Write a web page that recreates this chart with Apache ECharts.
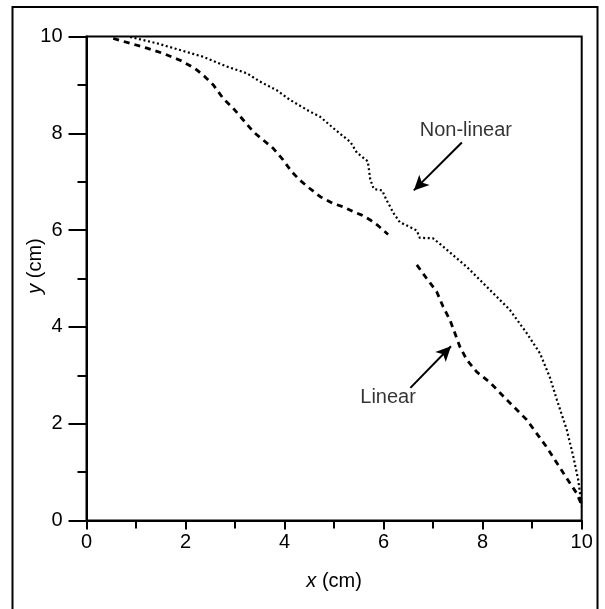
<!DOCTYPE html>
<html>
<head>
<meta charset="utf-8">
<script src="https://cdn.jsdelivr.net/npm/echarts@6/dist/echarts.min.js"></script>
<style>
html,body{margin:0;padding:0;background:#fff;}
#chart{width:605px;height:609px;}
</style>
</head>
<body>
<div id="chart"></div>
<script>
// Axis ticks
var xTicks = [0, 2, 4, 6, 8, 10];
var yTicks = [0, 2, 4, 6, 8, 10];

// Non-linear (dotted) curve: [x (cm), y (cm)]
var nonLinear = [
  [0.88, 9.99], [1.42, 9.86], [1.89, 9.72], [2.36, 9.58], [2.83, 9.38],
  [3.24, 9.24], [3.50, 9.07], [3.84, 8.89], [4.11, 8.69], [4.51, 8.45],
  [4.72, 8.34], [5.05, 8.05], [5.33, 7.82], [5.46, 7.60], [5.68, 7.42],
  [5.73, 7.05], [5.80, 6.85], [5.97, 6.82], [6.06, 6.62], [6.20, 6.35],
  [6.33, 6.16], [6.50, 6.08], [6.67, 5.99], [6.73, 5.84], [7.00, 5.83],
  [7.20, 5.66], [7.68, 5.24], [8.15, 4.76], [8.55, 4.35], [8.89, 3.87],
  [9.16, 3.45], [9.36, 2.95], [9.50, 2.49], [9.70, 1.87], [9.83, 1.32],
  [9.93, 0.84], [10.0, 0.29]
];

// Linear (dashed) curve: [x (cm), y (cm)], '-' marks the gap
var linear = [
  [0.54, 9.96], [0.88, 9.86], [1.22, 9.76], [1.55, 9.65], [1.89, 9.51],
  [2.19, 9.34], [2.39, 9.17], [2.56, 9.00], [2.76, 8.72], [2.96, 8.52],
  [3.17, 8.27], [3.37, 8.03], [3.57, 7.86], [3.77, 7.69], [3.97, 7.45],
  [4.14, 7.21], [4.31, 7.03], [4.51, 6.86], [4.72, 6.69], [4.98, 6.55],
  [5.19, 6.48], [5.39, 6.38], [5.56, 6.31], [5.73, 6.21], [5.89, 6.09],
  [6.09, 5.91], '-',
  [6.67, 5.28], [6.87, 5.00], [7.07, 4.73], [7.20, 4.42], [7.34, 4.14],
  [7.44, 3.87], [7.54, 3.59], [7.68, 3.32], [7.88, 3.07], [8.15, 2.85],
  [8.49, 2.49], [8.89, 2.08], [9.29, 1.52], [9.63, 0.98], [9.90, 0.56],
  [10.0, 0.32]
];

// Annotation labels and arrows
var labelNames = ['Non-linear', 'Linear'];
var labelPos = [[7.66, 8.06], [6.09, 2.55]];
var arrowNonLinear = [[7.58, 7.81], [6.61, 6.82]];
var arrowLinear = [[6.54, 2.74], [7.36, 3.60]];

var FONT = 'Liberation Sans, Arial, Helvetica, sans-serif';
var TXT = '#000';
var chart = echarts.init(document.getElementById('chart'), null, {renderer: 'canvas'});

var option = {
  animation: false,
  backgroundColor: '#fff',
  graphic: [{
    type: 'rect',
    shape: {x: 12.5, y: 7, width: 585, height: 700},
    style: {fill: 'none', stroke: '#000', lineWidth: 2},
    silent: true,
    z: 0
  }],
  grid: {
    left: 86.5, right: 23.3, top: 36.5, bottom: 88.5,
    show: true, borderColor: '#000', borderWidth: 2, backgroundColor: 'transparent'
  },
  xAxis: {
    type: 'value', min: xTicks[0], max: xTicks[xTicks.length - 1], interval: 2,
    name: '{i|x} (cm)', nameLocation: 'middle', nameGap: 51, nameMoveOverlap: false,
    nameTextStyle: {fontSize: 20, color: TXT, fontFamily: FONT,
      rich: {i: {fontStyle: 'italic', fontSize: 20, color: TXT, fontFamily: FONT}}},
    axisLine: {show: true, lineStyle: {color: '#000', width: 2}},
    axisTick: {show: true, inside: false, length: 9, lineStyle: {color: '#000', width: 2}},
    minorTick: {show: true, splitNumber: 2, length: 8, lineStyle: {color: '#000', width: 2}},
    axisLabel: {fontSize: 20, color: TXT, fontFamily: FONT, margin: 12},
    splitLine: {show: false}
  },
  yAxis: {
    type: 'value', min: yTicks[0], max: yTicks[yTicks.length - 1], interval: 2,
    name: '{i|y} (cm)', nameLocation: 'middle', nameGap: 41, nameRotate: 90,
    nameMoveOverlap: false,
    nameTextStyle: {fontSize: 20, color: TXT, fontFamily: FONT, padding: [0, 0, 0, 25],
      rich: {i: {fontStyle: 'italic', fontSize: 20, color: TXT, fontFamily: FONT}}},
    axisLine: {show: true, lineStyle: {color: '#000', width: 2}},
    axisTick: {show: true, inside: false, length: 18, lineStyle: {color: '#000', width: 2}},
    minorTick: {show: true, splitNumber: 2, length: 9, lineStyle: {color: '#000', width: 2}},
    axisLabel: {fontSize: 20, color: TXT, fontFamily: FONT, margin: 24},
    splitLine: {show: false}
  },
  series: [
    {
      name: 'Non-linear', type: 'line', data: nonLinear, showSymbol: false,
      lineStyle: {color: '#000', width: 2.2, type: [2, 2.6], cap: 'butt'},
      z: 3
    },
    {
      name: 'Linear', type: 'line', data: linear, showSymbol: false, connectNulls: false,
      lineStyle: {color: '#000', width: 2.8, type: [6, 5], cap: 'butt'},
      z: 3
    },
    {
      name: 'annotations', type: 'scatter', symbolSize: 0,
      data: labelNames.map(function (n, i) { return {name: n, value: labelPos[i]}; }),
      label: {show: true, position: 'inside', formatter: '{b}', fontSize: 20,
        color: TXT, fontFamily: FONT},
      markLine: {
        silent: true, symbol: ['none', 'arrow'], symbolSize: [11, 15],
        label: {show: false},
        lineStyle: {color: '#000', width: 2, type: 'solid'},
        data: [
          [{coord: arrowNonLinear[0]}, {coord: arrowNonLinear[1]}],
          [{coord: arrowLinear[0]}, {coord: arrowLinear[1]}]
        ]
      },
      z: 4
    }
  ]
};
chart.setOption(option);
</script>
</body>
</html>
